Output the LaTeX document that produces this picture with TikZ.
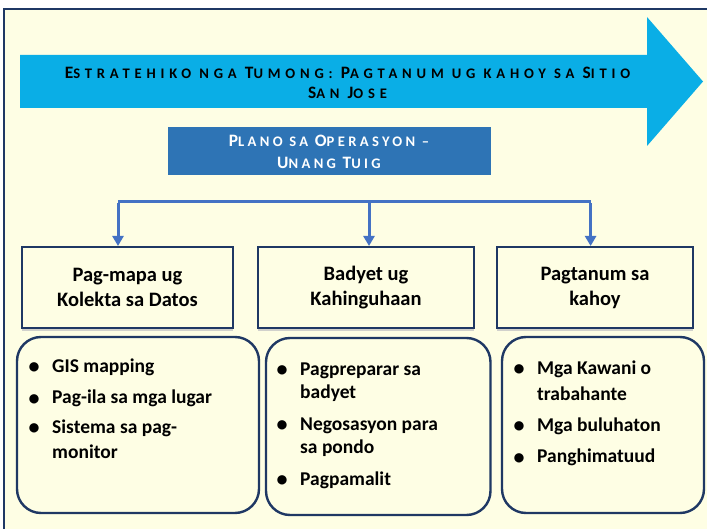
\documentclass[tikz,border=0pt]{standalone}
\usepackage{fontspec}
\setmainfont{Carlito}
\newfontfamily\scfontA[LetterSpace=33]{Carlito}
\newfontfamily\scfontB[LetterSpace=23]{Carlito}
\usetikzlibrary{arrows.meta,shadows}
\definecolor{cream}{HTML}{FEFEE4}
\definecolor{navy}{HTML}{1F3864}
\definecolor{arrowblue}{HTML}{0AAEE6}
\definecolor{planoblue}{HTML}{2E74B5}
\definecolor{connblue}{HTML}{4472C4}
\newcommand{\bigc}[1]{{\fontsize{17.4}{20}\selectfont #1}}
\newcommand{\smc}[1]{{\fontsize{14.6}{20}\selectfont #1}}
\newcommand{\blt}{\makebox[14pt][c]{\fontsize{22}{22}\selectfont\raisebox{-1.5pt}{\textbullet}}}
\tikzset{
  headbox/.style={draw=navy, line width=2pt, fill=cream, minimum width=#1, minimum height=81pt,
    align=center, font=\bfseries\fontsize{20.5}{25}\selectfont, inner sep=0pt,
    drop shadow={shadow xshift=0pt, shadow yshift=-3pt, fill=gray!45, opacity=0.8}},
  listbox/.style={draw=navy, line width=2.4pt, fill=cream, rounded corners=24pt},
  listtext/.style={anchor=north west, align=left, inner sep=0pt, font=\bfseries\fontsize{19.5}{24.5}\selectfont},
  bus/.style={draw=connblue, line width=3pt},
  conn/.style={draw=connblue, line width=3pt, -{Triangle[width=11pt,length=10pt]}}
}
\begin{document}
\begin{tikzpicture}[x=1pt,y=-1pt]
\useasboundingbox (0,0) rectangle (707,529);
\fill[white] (0,0) rectangle (707,529);
% frame
\fill[cream] (4,9) rectangle (720,540);
\draw[navy, line width=2pt] (4,545) -- (4,9) -- (720,9);
% big arrow
\fill[arrowblue] (20,55) -- (647,55) -- (647,17) -- (703,81.5) -- (647,146) -- (647,108) -- (20,108) -- cycle;
\node[align=center, inner sep=0pt, font=\scfontA\bfseries\fontsize{17.4}{20}\selectfont, text=black] (goal) at (347.5,83)
  {\bigc{E}\smc{STRATEHIKO NGA }\bigc{T}\smc{UMONG: }\bigc{P}\smc{AGTANUM UG KAHOY SA }\bigc{S}\smc{ITIO}\\
   \bigc{S}\smc{AN }\bigc{J}\smc{OSE}};
% plano box
\fill[planoblue] (168,127) rectangle (490.5,175);
\node[align=center, inner sep=0pt, font=\scfontB\bfseries\fontsize{17.4}{22}\selectfont, text=white] (plano) at (329,152)
  {\bigc{P}\smc{LANO SA }\bigc{O}\smc{PERASYON –}\\\bigc{U}\smc{NANG }\bigc{T}\smc{UIG}};
% heading boxes
\node[headbox=211pt] (h1) at (127.5,287.5) {Pag-mapa ug\\Kolekta sa Datos};
\node[headbox=216pt] (h2) at (366,287.5) {Badyet ug\\Kahinguhaan};
\node[headbox=196pt] (h3) at (595,287.5) {Pagtanum sa\\kahoy};
% connectors
\coordinate (j1) at (118,201.7);
\coordinate (j2) at (369,201.7);
\coordinate (j3) at (590.6,201.7);
\draw[bus] (j1) -- (j3);
\draw[conn] ([yshift=-1.5pt]j1) -- (j1 |- h1.north);
\draw[conn] (j2) -- (j2 |- h2.north);
\draw[conn] ([yshift=-1.5pt]j3) -- (j3 |- h3.north);
% list boxes
\draw[listbox] (17,337) rectangle (259,513);
\draw[listbox] (266,338) rectangle (490.5,515);
\draw[listbox] (502,337) rectangle (704,513);
\node[listtext] (l1) at (27,355) {\begin{tabular}{@{}l@{\hspace{11pt}}l@{}}
\blt & GIS mapping\\[7pt]
\blt & Pag-ila sa mga lugar\\[5pt]
\blt & Sistema sa pag-\\[1pt]
 & monitor
\end{tabular}};
\node[listtext] (l2) at (275,358) {\begin{tabular}{@{}l@{\hspace{11pt}}l@{}}
\blt & Pagpreparar sa\\[-1pt]
 & badyet\\[7pt]
\blt & Negosasyon para\\[-1pt]
 & sa pondo\\[7pt]
\blt & Pagpamalit
\end{tabular}};
\node[listtext] (l3) at (512,357) {\begin{tabular}{@{}l@{\hspace{11pt}}l@{}}
\blt & Mga Kawani o\\[2pt]
 & trabahante\\[6pt]
\blt & Mga buluhaton\\[7pt]
\blt & Panghimatuud
\end{tabular}};
\end{tikzpicture}
\end{document}
